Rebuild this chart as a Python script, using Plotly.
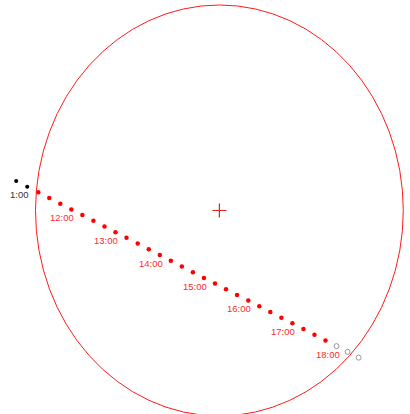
import plotly.graph_objects as go

# Transit track in units of the solar radius (sun centre at 0,0)
times = ["11:00", "11:15", "11:30", "11:45", "12:00", "12:15", "12:30", "12:45",
         "13:00", "13:15", "13:30", "13:45", "14:00", "14:15", "14:30", "14:45",
         "15:00", "15:15", "15:30", "15:45", "16:00", "16:15", "16:30", "16:45",
         "17:00", "17:15", "17:30", "17:45", "18:00", "18:15", "18:30", "18:45"]
track_x = [-1.105, -1.045, -0.985, -0.925, -0.865, -0.805, -0.745, -0.685,
           -0.625, -0.565, -0.505, -0.444, -0.384, -0.324, -0.264, -0.204,
           -0.144, -0.084, -0.024, 0.036, 0.096, 0.157, 0.217, 0.277,
           0.337, 0.397, 0.457, 0.517, 0.577, 0.637, 0.697, 0.757]
track_y = [0.144, 0.116, 0.089, 0.061, 0.033, 0.005, -0.022, -0.050,
           -0.078, -0.106, -0.133, -0.161, -0.189, -0.217, -0.244, -0.272,
           -0.300, -0.328, -0.355, -0.383, -0.411, -0.438, -0.466, -0.494,
           -0.522, -0.549, -0.577, -0.605, -0.633, -0.660, -0.688, -0.716]
# visibility state of each point: before entry (outside), on disc, after exit
state = ["pre"] * 2 + ["on"] * 27 + ["post"] * 3
hour_labels = {"11:00": "1:00", "12:00": "12:00", "13:00": "13:00", "14:00": "14:00",
               "15:00": "15:00", "16:00": "16:00", "17:00": "17:00", "18:00": "18:00"}
sun_radius = 1.0
sun_center = (0.0, 0.0)

fig = go.Figure()

def pick(s):
    idx = [i for i, v in enumerate(state) if v == s]
    return [track_x[i] for i in idx], [track_y[i] for i in idx]

px_, py_ = pick("pre")
fig.add_trace(go.Scatter(x=px_, y=py_, mode="markers", hoverinfo="skip",
                         marker=dict(size=4, color="black"), cliponaxis=False))
ox, oy = pick("on")
fig.add_trace(go.Scatter(x=ox, y=oy, mode="markers", hoverinfo="skip",
                         marker=dict(size=4.5, color="#ff0000"), cliponaxis=False))
gx, gy = pick("post")
fig.add_trace(go.Scatter(x=gx, y=gy, mode="markers", hoverinfo="skip",
                         marker=dict(size=5, color="rgba(0,0,0,0)",
                                     line=dict(color="#999999", width=1)),
                         cliponaxis=False))
fig.add_trace(go.Scatter(x=[sun_center[0]], y=[sun_center[1]], mode="markers",
                         hoverinfo="skip",
                         marker=dict(symbol="cross-thin", size=10,
                                     line=dict(color="#e02020", width=1.2))))

fig.add_shape(type="circle", xref="x", yref="y",
              x0=sun_center[0] - sun_radius, x1=sun_center[0] + sun_radius,
              y0=sun_center[1] - sun_radius, y1=sun_center[1] + sun_radius,
              line=dict(color="#ff1a1a", width=1))

for t, x, y, s in zip(times, track_x, track_y, state):
    if t in hour_labels:
        fig.add_annotation(x=x, y=y, text=hour_labels[t], showarrow=False,
                           xshift=2 if s != "pre" else 3.5, yshift=-14,
                           font=dict(family="Liberation Sans, Arial", size=9.5,
                                     color="#ff2a2a" if s != "pre" else "#333333"))

fig.update_layout(width=410, height=414, margin=dict(l=0, r=0, t=0, b=0),
                  paper_bgcolor="white", plot_bgcolor="white", showlegend=False,
                  hovermode=False,
                  xaxis=dict(range=[-1.193, 1.0365], visible=False, fixedrange=True),
                  yaxis=dict(range=[-0.9903, 1.0243], visible=False, fixedrange=True))

fig.write_html("out.html", config={"displayModeBar": False, "staticPlot": True},
               post_script="document.body.style.margin='0';document.body.style.overflow='hidden';")
